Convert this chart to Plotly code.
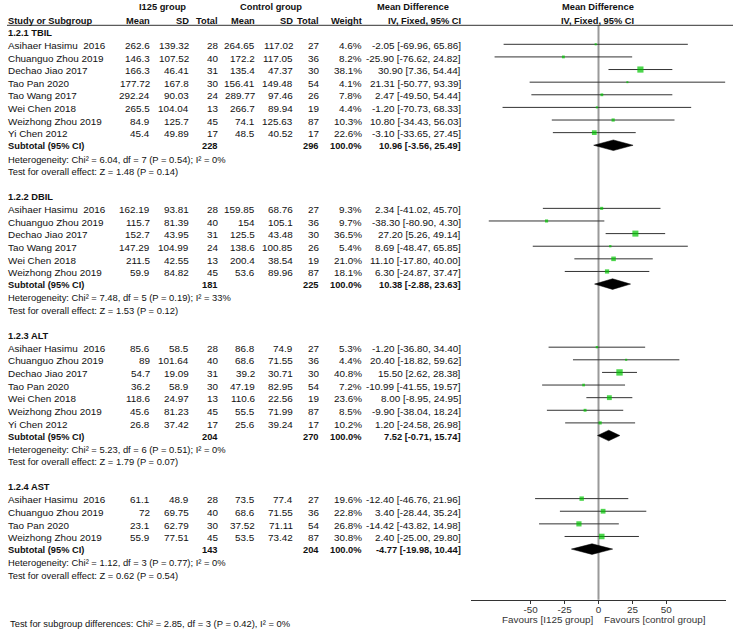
import math
import plotly.graph_objects as go

W, H = 734, 631
ROW0, ROWH = 31.68, 12.62
FONT = "Liberation Sans, Arial, sans-serif"
FS = 9.9
FSB = 9.3

# ---------------- data ----------------
tbil_studies = ["Asihaer Hasimu  2016", "Chuanguo Zhou 2019", "Dechao Jiao 2017", "Tao Pan 2020",
                "Tao Wang 2017", "Wei Chen 2018", "Weizhong Zhou 2019", "Yi Chen 2012"]
tbil_e_mean = [262.6, 146.3, 166.3, 177.72, 292.24, 265.5, 84.9, 45.4]
tbil_e_sd = [139.32, 107.52, 46.41, 167.8, 90.03, 104.04, 125.7, 49.89]
tbil_e_n = [28, 40, 31, 30, 24, 13, 45, 17]
tbil_c_mean = [264.65, 172.2, 135.4, 156.41, 289.77, 266.7, 74.1, 48.5]
tbil_c_sd = [117.02, 117.05, 47.37, 149.48, 97.46, 89.94, 125.63, 40.52]
tbil_c_n = [27, 36, 30, 54, 26, 19, 87, 17]
tbil_weight = [4.6, 8.2, 38.1, 4.1, 7.8, 4.4, 10.3, 22.6]
tbil_md = [-2.05, -25.90, 30.90, 21.31, 2.47, -1.20, 10.80, -3.10]
tbil_lo = [-69.96, -76.62, 7.36, -50.77, -49.50, -70.73, -34.43, -33.65]
tbil_hi = [65.86, 24.82, 54.44, 93.39, 54.44, 68.33, 56.03, 27.45]
tbil_sub = dict(e_n=228, c_n=296, w=100.0, md=10.96, lo=-3.56, hi=25.49, chi=6.04, df=7, p=0.54, i2=0, z=1.48, pz=0.14)

dbil_studies = ["Asihaer Hasimu  2016", "Chuanguo Zhou 2019", "Dechao Jiao 2017", "Tao Wang 2017",
                "Wei Chen 2018", "Weizhong Zhou 2019"]
dbil_e_mean = [162.19, 115.7, 152.7, 147.29, 211.5, 59.9]
dbil_e_sd = [93.81, 81.39, 43.95, 104.99, 42.55, 84.82]
dbil_e_n = [28, 40, 31, 24, 13, 45]
dbil_c_mean = [159.85, 154, 125.5, 138.6, 200.4, 53.6]
dbil_c_sd = [68.76, 105.1, 43.48, 100.85, 38.54, 89.96]
dbil_c_n = [27, 36, 30, 26, 19, 87]
dbil_weight = [9.3, 9.7, 36.5, 5.4, 21.0, 18.1]
dbil_md = [2.34, -38.30, 27.20, 8.69, 11.10, 6.30]
dbil_lo = [-41.02, -80.90, 5.26, -48.47, -17.80, -24.87]
dbil_hi = [45.70, 4.30, 49.14, 65.85, 40.00, 37.47]
dbil_sub = dict(e_n=181, c_n=225, w=100.0, md=10.38, lo=-2.88, hi=23.63, chi=7.48, df=5, p=0.19, i2=33, z=1.53, pz=0.12)

alt_studies = ["Asihaer Hasimu  2016", "Chuanguo Zhou 2019", "Dechao Jiao 2017", "Tao Pan 2020",
               "Wei Chen 2018", "Weizhong Zhou 2019", "Yi Chen 2012"]
alt_e_mean = [85.6, 89, 54.7, 36.2, 118.6, 45.6, 26.8]
alt_e_sd = [58.5, 101.64, 19.09, 58.9, 24.97, 81.23, 37.42]
alt_e_n = [28, 40, 31, 30, 13, 45, 17]
alt_c_mean = [86.8, 68.6, 39.2, 47.19, 110.6, 55.5, 25.6]
alt_c_sd = [74.9, 71.55, 30.71, 82.95, 22.56, 71.99, 39.24]
alt_c_n = [27, 36, 30, 54, 19, 87, 17]
alt_weight = [5.3, 4.4, 40.8, 7.2, 23.6, 8.5, 10.2]
alt_md = [-1.20, 20.40, 15.50, -10.99, 8.00, -9.90, 1.20]
alt_lo = [-36.80, -18.82, 2.62, -41.55, -8.95, -38.04, -24.58]
alt_hi = [34.40, 59.62, 28.38, 19.57, 24.95, 18.24, 26.98]
alt_sub = dict(e_n=204, c_n=270, w=100.0, md=7.52, lo=-0.71, hi=15.74, chi=5.23, df=6, p=0.51, i2=0, z=1.79, pz=0.07)

ast_studies = ["Asihaer Hasimu  2016", "Chuanguo Zhou 2019", "Tao Pan 2020", "Weizhong Zhou 2019"]
ast_e_mean = [61.1, 72, 23.1, 55.9]
ast_e_sd = [48.9, 69.75, 62.79, 77.51]
ast_e_n = [28, 40, 30, 45]
ast_c_mean = [73.5, 68.6, 37.52, 53.5]
ast_c_sd = [77.4, 71.55, 71.11, 73.42]
ast_c_n = [27, 36, 54, 87]
ast_weight = [19.6, 22.8, 26.8, 30.8]
ast_md = [-12.40, 3.40, -14.42, 2.40]
ast_lo = [-46.76, -28.44, -43.82, -25.00]
ast_hi = [21.96, 35.24, 14.98, 29.80]
ast_sub = dict(e_n=143, c_n=204, w=100.0, md=-4.77, lo=-19.98, hi=10.44, chi=1.12, df=3, p=0.77, i2=0, z=0.62, pz=0.54)

group_titles = ["1.2.1 TBIL", "1.2.2 DBIL", "1.2.3 ALT", "1.2.4 AST"]
groups = [
    (tbil_studies, tbil_e_mean, tbil_e_sd, tbil_e_n, tbil_c_mean, tbil_c_sd, tbil_c_n, tbil_weight, tbil_md, tbil_lo, tbil_hi, tbil_sub),
    (dbil_studies, dbil_e_mean, dbil_e_sd, dbil_e_n, dbil_c_mean, dbil_c_sd, dbil_c_n, dbil_weight, dbil_md, dbil_lo, dbil_hi, dbil_sub),
    (alt_studies, alt_e_mean, alt_e_sd, alt_e_n, alt_c_mean, alt_c_sd, alt_c_n, alt_weight, alt_md, alt_lo, alt_hi, alt_sub),
    (ast_studies, ast_e_mean, ast_e_sd, ast_e_n, ast_c_mean, ast_c_sd, ast_c_n, ast_weight, ast_md, ast_lo, ast_hi, ast_sub),
]
overall_test = dict(chi=2.85, df=3, p=0.42, i2=0)
x_ticks = [-50, -25, 0, 25, 50]
favours_left = "Favours [I125 group]"
favours_right = "Favours [control group]"

# ---------------- layout helpers ----------------
annotations = []


def ann(text, px, py, anchor="left", bold=False, color="#111111", size=None):
    if bold:
        text = "<b>" + text + "</b>"
    annotations.append(dict(text=text, x=px / W, y=1 - py / H, xref="paper", yref="paper",
                            xanchor=anchor, yanchor="middle", showarrow=False,
                            font=dict(family=FONT, size=size or (FSB if bold else FS), color=color),
                            borderpad=0))


def rowpx(r):
    return ROW0 + r * ROWH + 1.2


COL = dict(name=7.3, e_mean=150.5, e_sd=189.5, e_n=218.5, c_mean=256.3, c_sd=293.5, c_n=319.5,
           weight=362.5, ci=462.0)

# headers
ann("I125 group", 162.8, 7.5, "center", True)
ann("Control group", 271.0, 7.5, "center", True)
ann("Mean Difference", 413.0, 7.5, "center", True)
ann("Mean Difference", 597.5, 7.5, "center", True)
hy = 20.7
ann("Study or Subgroup", COL["name"], hy, "left", True)
ann("Mean", COL["e_mean"], hy, "right", True)
ann("SD", COL["e_sd"], hy, "right", True)
ann("Total", COL["e_n"], hy, "right", True)
ann("Mean", COL["c_mean"], hy, "right", True)
ann("SD", COL["c_sd"], hy, "right", True)
ann("Total", COL["c_n"], hy, "right", True)
ann("Weight", COL["weight"], hy, "right", True)
ann("IV, Fixed, 95% CI", COL["ci"], hy, "right", True)
ann("IV, Fixed, 95% CI", 597.5, hy, "center", True)

ci_x, ci_y = [], []
mk_x, mk_y, mk_s = [], [], []
diamonds = []

r = 0
for title, g in zip(group_titles, groups):
    studies, em, esd, en, cm, csd, cn, wt, md, lo, hi, sub = g
    ann(title, COL["name"], rowpx(r), "left", True)
    r += 1
    for i in range(len(studies)):
        py = rowpx(r)
        ann(studies[i], COL["name"], py)
        ann(f"{em[i]:g}", COL["e_mean"], py, "right")
        ann(f"{esd[i]:g}", COL["e_sd"], py, "right")
        ann(f"{en[i]}", COL["e_n"], py, "right")
        ann(f"{cm[i]:g}", COL["c_mean"], py, "right")
        ann(f"{csd[i]:g}", COL["c_sd"], py, "right")
        ann(f"{cn[i]}", COL["c_n"], py, "right")
        ann(f"{wt[i]:.1f}%", COL["weight"], py, "right")
        ann(f"{md[i]:.2f} [{lo[i]:.2f}, {hi[i]:.2f}]", COL["ci"], py, "right")
        ci_x += [lo[i], hi[i], None]
        ci_y += [r, r, None]
        mk_x.append(md[i])
        mk_y.append(r)
        mk_s.append(max(2.0, math.sqrt(wt[i])))
        r += 1
    py = rowpx(r)
    ann("Subtotal (95% CI)", COL["name"], py, "left", True)
    ann(f"{sub['e_n']}", COL["e_n"], py, "right", True)
    ann(f"{sub['c_n']}", COL["c_n"], py, "right", True)
    ann(f"{sub['w']:.1f}%", COL["weight"], py, "right", True)
    ann(f"{sub['md']:.2f} [{sub['lo']:.2f}, {sub['hi']:.2f}]", COL["ci"], py, "right", True)
    diamonds.append((sub["lo"], sub["md"], sub["hi"], r))
    r += 1
    ann(f"Heterogeneity: Chi² = {sub['chi']:.2f}, df = {sub['df']} (P = {sub['p']:.2f}); I² = {sub['i2']}%",
        COL["name"], rowpx(r), size=9.4)
    r += 1
    ann(f"Test for overall effect: Z = {sub['z']:.2f} (P = {sub['pz']:.2f})", COL["name"], rowpx(r), size=9.4)
    r += 2

ann(f"Test for subgroup differences: Chi² = {overall_test['chi']:.2f}, df = {overall_test['df']} "
    f"(P = {overall_test['p']:.2f}), I² = {overall_test['i2']}%", 9.0, 623.0, size=9.4)
ann(favours_left, 593.5, 619.5, "right", color="#333333")
ann(favours_right, 602.5, 619.5, "left", color="#333333")

fig = go.Figure()
fig.add_trace(go.Scatter(x=ci_x, y=ci_y, mode="lines", line=dict(color="#333333", width=1),
                         hoverinfo="skip"))
for lo_, md_, hi_, rr in diamonds:
    fig.add_trace(go.Scatter(x=[lo_, md_, hi_, md_, lo_], y=[rr, rr - 0.42, rr, rr + 0.42, rr],
                             mode="lines", fill="toself", fillcolor="black",
                             line=dict(color="black", width=0.5), hoverinfo="skip"))
fig.add_trace(go.Scatter(x=mk_x, y=mk_y, mode="markers",
                         marker=dict(symbol="square", size=mk_s, color="#00c400", line=dict(width=0))))

AX_Y = 599.7
fig.add_shape(type="line", xref="x", yref="paper", x0=0, x1=0, y0=1 - 25.3 / H, y1=1 - AX_Y / H,
              line=dict(color="#9a9a9a", width=2), layer="below")
fig.add_shape(type="line", xref="paper", yref="paper", x0=7 / W, x1=733 / W, y0=1 - 25.3 / H,
              y1=1 - 25.3 / H, line=dict(color="#333333", width=1))

fig.update_layout(
    width=W, height=H, margin=dict(l=0, r=0, t=0, b=0),
    paper_bgcolor="white", plot_bgcolor="white", showlegend=False,
    annotations=annotations,
    xaxis=dict(domain=[471 / W, 726 / W], range=[-94, 94], anchor="free", position=1 - AX_Y / H,
               showgrid=False, zeroline=False, showline=True, linecolor="#333333", linewidth=1,
               tickvals=x_ticks, ticktext=[str(t) for t in x_ticks], ticks="outside", ticklen=3,
               tickcolor="#333333", tickfont=dict(family=FONT, size=FS, color="#333333"),
               ticklabelstandoff=-3, fixedrange=True),
    yaxis=dict(domain=[0, 1], range=[(H - ROW0) / ROWH, -ROW0 / ROWH], visible=False, fixedrange=True),
)

fig.write_html("out.html", config={"displayModeBar": False},
               post_script="document.body.style.margin='0';document.body.style.overflow='hidden';")
